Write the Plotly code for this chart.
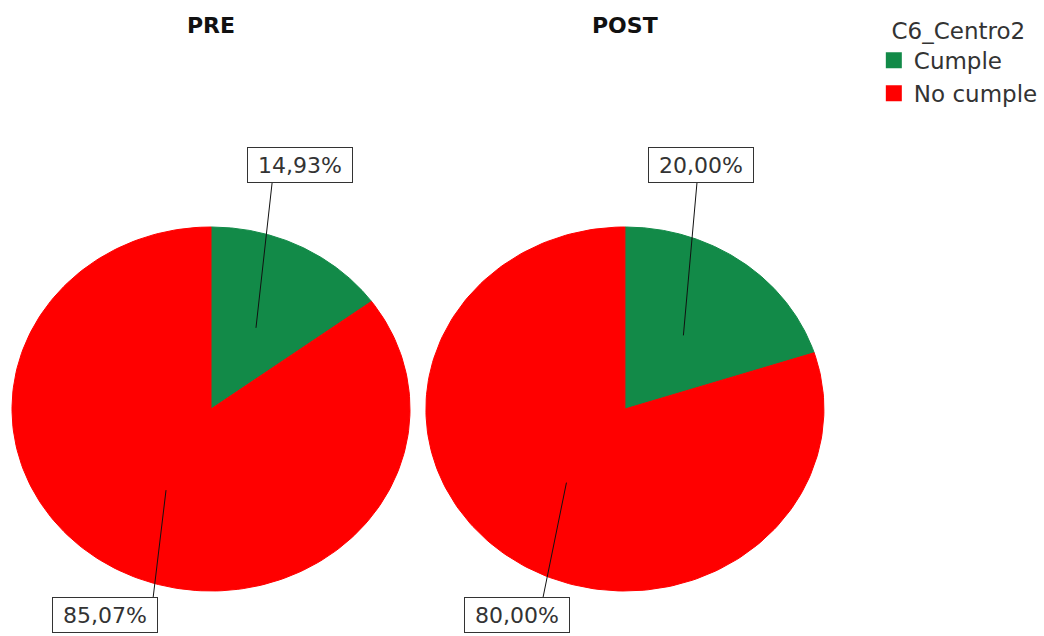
import numpy as np
import plotly.graph_objects as go

# Data
groups = ["PRE", "POST"]
categories = ["Cumple", "No cumple"]
pre_pct = [14.93, 85.07]
post_pct = [20.00, 80.00]
colors = ["#128A48", "#FF0000"]

# Layout of the two pies (unit radius, centres in axis units)
centers_x = [0.0, 2.08]
label_pos = {  # (box centre, leader end) relative to pie centre
    ("PRE", 0): ((0.447, 1.34), (0.307, 1.242)),
    ("PRE", 1): ((-0.533, -1.132), (-0.291, -1.038)),
    ("POST", 0): ((0.382, 1.34), (0.362, 1.242)),
    ("POST", 1): ((-0.543, -1.132), (-0.412, -1.038)),
}

fig = go.Figure()
annotations = []

for g, cx, vals in zip(groups, centers_x, [pre_pct, post_pct]):
    total = sum(vals)
    start = 0.0
    for i, (cat, v) in enumerate(zip(categories, vals)):
        a0 = 2 * np.pi * start / total
        a1 = 2 * np.pi * (start + v) / total
        t = np.linspace(a0, a1, 200)
        xs = np.concatenate([[cx], cx + np.sin(t), [cx]])
        ys = np.concatenate([[0.0], np.cos(t), [0.0]])
        fig.add_trace(go.Scatter(
            x=xs, y=ys, mode="lines", fill="toself",
            fillcolor=colors[i], line=dict(color=colors[i], width=1),
            hoverinfo="text", text=f"{g} - {cat}: {v:.2f}%",
            showlegend=False,
        ))
        # leader line from the slice middle to its label
        am = (a0 + a1) / 2
        (bx, by), (ex, ey) = label_pos[(g, i)]
        fig.add_trace(go.Scatter(
            x=[cx + 0.5 * np.sin(am), cx + ex], y=[0.5 * np.cos(am), ey],
            mode="lines", line=dict(color="#111111", width=1),
            hoverinfo="skip", showlegend=False,
        ))
        annotations.append(dict(
            x=cx + bx, y=by, xref="x", yref="y",
            text=f"{v:.2f}%".replace(".", ","), showarrow=False,
            font=dict(family="DejaVu Sans", size=22, color="#333333"),
            bgcolor="white", bordercolor="#333333", borderwidth=1,
            borderpad=3, width=98, height=28,
        ))
        start += v
    annotations.append(dict(
        x=cx, y=2.247 - 25 / 182, xref="x", yref="y", text=f"<b>{g}</b>",
        showarrow=False, yanchor="middle",
        font=dict(family="DejaVu Sans", size=22, color="#111111"),
    ))

# Legend entries
for i, cat in enumerate(categories):
    fig.add_trace(go.Scatter(
        x=[None], y=[None], mode="markers", name=cat, legendgroup=cat,
        marker=dict(symbol="square", size=21, color=colors[i]),
    ))

fig.update_layout(
    width=1044, height=636,
    margin=dict(l=0, r=0, t=0, b=0),
    paper_bgcolor="white", plot_bgcolor="white",
    xaxis=dict(range=[-211 / 199, (1044 - 211) / 199], visible=False,
               fixedrange=True),
    yaxis=dict(range=[-(636 - 409) / 182, 409 / 182], visible=False,
               fixedrange=True),
    annotations=annotations,
    legend=dict(
        title=dict(text="C6_Centro2", side="top center",
                   font=dict(family="DejaVu Sans", size=23, color="#333333")),
        font=dict(family="DejaVu Sans", size=23, color="#333333"),
        x=0.837, y=1.0 - 9 / 636, xanchor="left", yanchor="top",
        itemwidth=30, tracegroupgap=0, bgcolor="rgba(0,0,0,0)",
    ),
)

fig.write_html("out.html")
